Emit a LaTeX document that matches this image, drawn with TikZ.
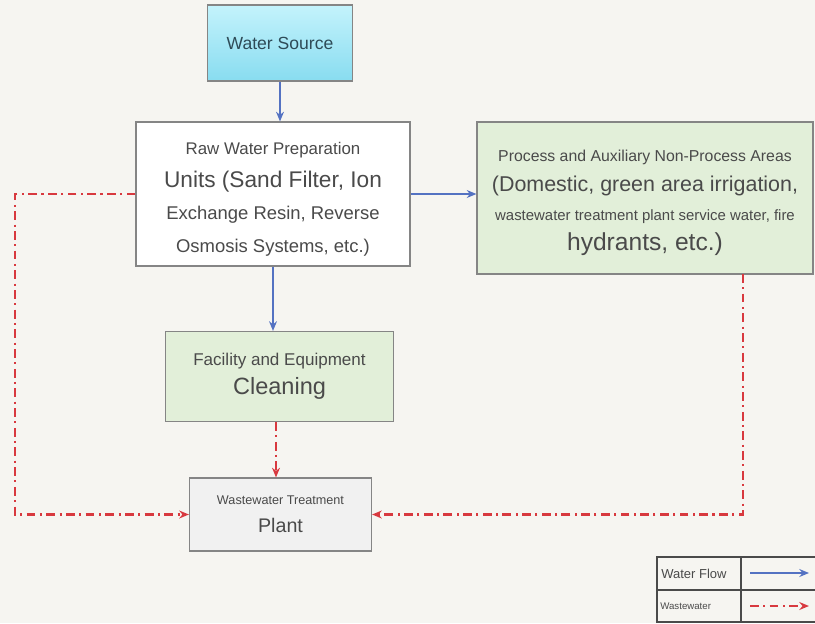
\documentclass[tikz,border=0pt]{standalone}
\usepackage{fontspec}
\setmainfont{Liberation Sans}
\usetikzlibrary{arrows.meta}

\definecolor{bgc}{HTML}{F6F5F1}
\definecolor{edge}{HTML}{858585}
\definecolor{txt}{HTML}{4A4A4A}
\definecolor{srctxt}{HTML}{2E4B57}
\definecolor{flow}{HTML}{5472C2}
\definecolor{waste}{HTML}{D8393F}
\definecolor{greenbox}{HTML}{E2EFD9}
\definecolor{graybox}{HTML}{F1F1F1}
\definecolor{cyantop}{HTML}{C4F3FC}
\definecolor{cyanbot}{HTML}{88DCF0}

\tikzset{
  box/.style={draw=edge, line width=0.7pt, inner sep=0pt, align=flush center, text=txt},
  flowline/.style={draw=flow, line width=1.2pt, -{Stealth[length=5.5pt,width=4.5pt]}},
  wasteline/.style={draw=waste, line width=1.2pt, dash pattern=on 5pt off 2.5pt on 1.2pt off 2.5pt, -{Stealth[length=5.5pt,width=4.5pt]}},
}

\begin{document}
\begin{tikzpicture}[x=0.02cm, y=-0.02cm]
    \fill[bgc] (0,0) rectangle (815,623);
    \useasboundingbox (0,0) rectangle (815,623);

    \node[box, top color=cyantop, bottom color=cyanbot, minimum width=2.9cm, minimum height=1.52cm,
          text=srctxt, font=\fontsize{10}{12}\selectfont] (src) at (280,43) {Water Source};
    \node[box, fill=white, minimum width=5.48cm, minimum height=2.88cm, text width=5.3cm,
          font=\fontsize{10.5}{18.5}\selectfont] (raw) at (273,194)
          {{\fontsize{9.6}{18}\selectfont\rule{0pt}{13pt}Raw Water Preparation}\\
           {\fontsize{12.9}{18}\selectfont Units (Sand Filter, Ion}\\
           Exchange Resin, Reverse\\
           Osmosis Systems, etc.)};
    \node[box, fill=greenbox, minimum width=6.72cm, minimum height=3.04cm, text width=6.6cm,
          font=\fontsize{9}{17}\selectfont] (proc) at (645,198)
          {\rule{0pt}{12pt}Process and Auxiliary Non-Process Areas\\
           {\fontsize{12.2}{17}\selectfont (Domestic, green area irrigation,}\\
           {\fontsize{8.5}{17}\selectfont wastewater treatment plant service water, fire}\\
           {\fontsize{14}{17}\selectfont hydrants, etc.)}};
    \node[box, fill=greenbox, minimum width=4.56cm, minimum height=1.8cm, text width=4.4cm,
          font=\fontsize{9.7}{16.6}\selectfont] (clean) at (279.5,376.5)
          {Facility and Equipment\\
           {\fontsize{13.4}{16.6}\selectfont Cleaning}};
    \node[box, fill=graybox, minimum width=3.64cm, minimum height=1.46cm, text width=3.5cm,
          font=\fontsize{7.2}{16}\selectfont] (wwtp) at (280.5,514.5)
          {Wastewater Treatment\\
           {\fontsize{11.2}{16}\selectfont Plant}};

    \coordinate (lc) at (15,194);
    \coordinate (pout) at (743,274);

    % water flow
    \draw[flowline] (src.south) -- (src.south |- raw.north);
    \draw[flowline] (raw.south) -- (raw.south |- clean.north);
    \draw[flowline] (raw.east) -- (raw.east -| proc.west);

    % wastewater
    \draw[wasteline] (raw.west) -- (lc) |- (wwtp.west);
    \draw[wasteline] (clean.south -| 276,0) -- (wwtp.north -| 276,0);
    \draw[wasteline] (pout) |- (wwtp.east);

    % legend
    \draw[draw=txt, line width=0.6pt, fill=bgc] (657,557) rectangle (830,622);
    \draw[draw=txt, line width=0.6pt] (657,590) -- (830,590);
    \draw[draw=txt, line width=0.6pt] (741,557) -- (741,622);
    \node[anchor=west, inner sep=0pt, text=txt, font=\fontsize{7.4}{9}\selectfont] (legflow) at (661,574) {Water Flow};
    \node[anchor=west, inner sep=0pt, text=txt, font=\fontsize{5.5}{7}\selectfont] (legwaste) at (660,606) {Wastewater};
    \coordinate (fa) at (750,573);
    \coordinate (fb) at (809,573);
    \coordinate (wa) at (750,606);
    \coordinate (wb) at (809,606);
    \draw[flowline] (fa) -- (fb);
    \draw[wasteline] (wa) -- (wb);
\end{tikzpicture}
\end{document}
